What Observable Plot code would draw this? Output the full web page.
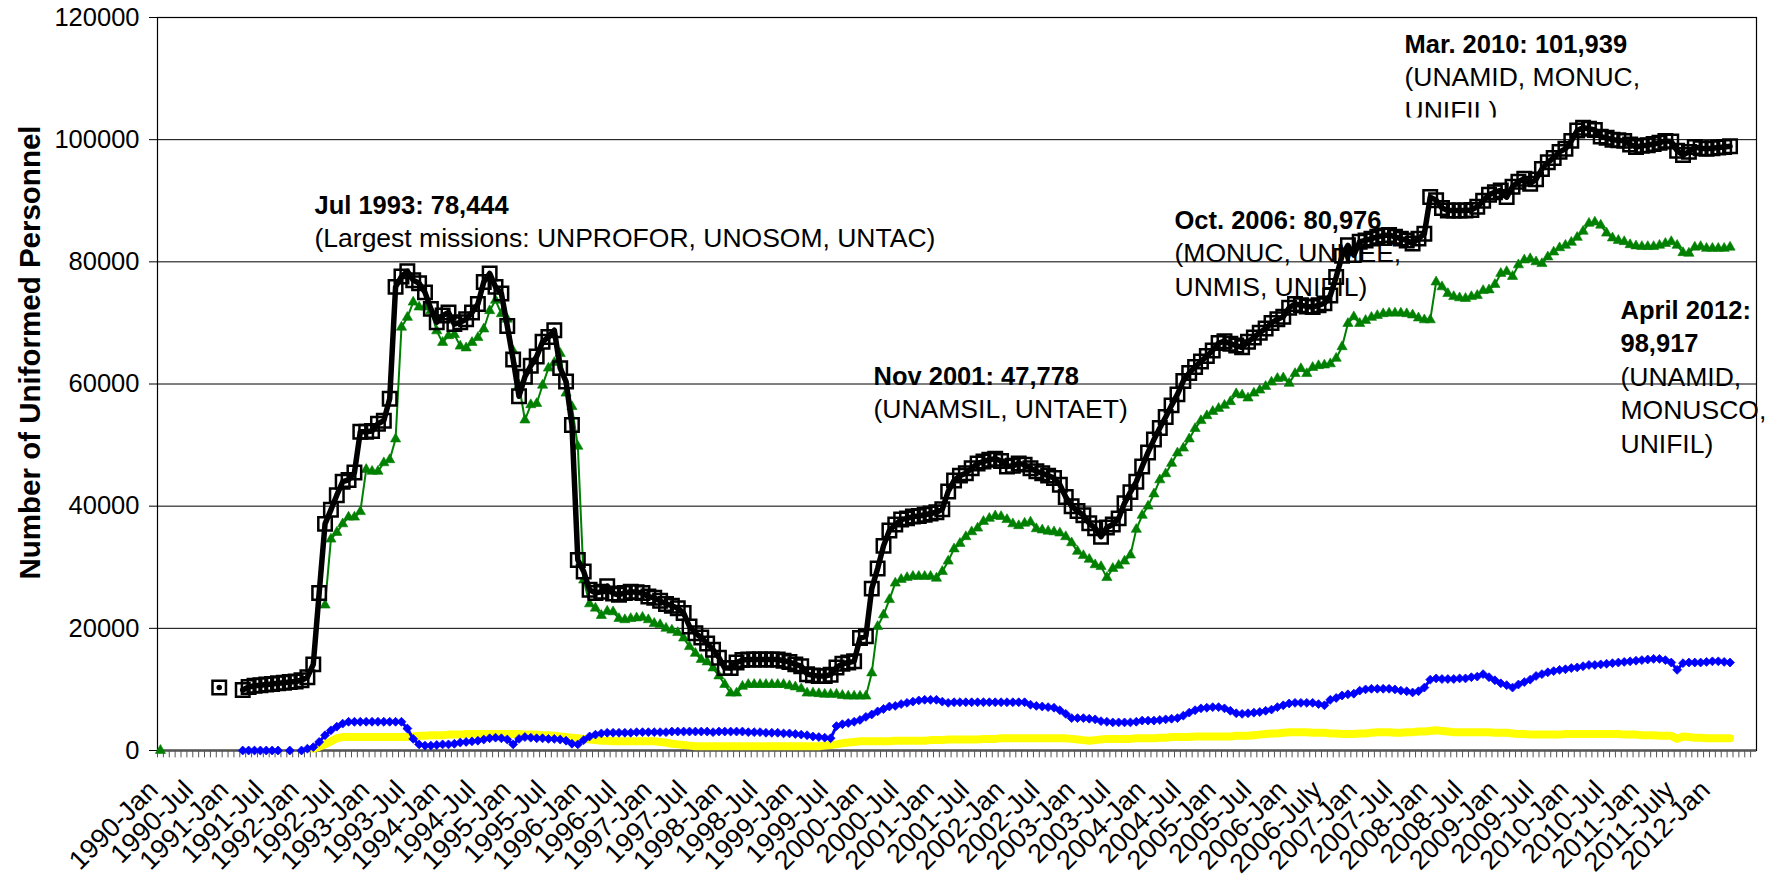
<!DOCTYPE html>
<html><head><meta charset="utf-8">
<script src="https://cdn.jsdelivr.net/npm/d3@7"></script>
<script src="https://cdn.jsdelivr.net/npm/@observablehq/plot@0.6"></script>
<style>
html,body{margin:0;padding:0;background:#fff;}
#chart svg{display:block;}
</style>
</head><body><div id="chart"></div>
<script>
// ---------- DATA ----------
// Months from 1990-Jan; category axis runs through 2012-Aug (272 categories)
const firstYear = 1990, nCategories = 272;
const monthNames = ["Jan","Feb","Mar","Apr","May","Jun","Jul","Aug","Sep","Oct","Nov","Dec"];

// Tick labels (every 6th category)
const tickLabels = ["1990-Jan","1990-Jul","1991-Jan","1991-Jul","1992-Jan","1992-Jul","1993-Jan","1993-Jul",
 "1994-Jan","1994-Jul","1995-Jan","1995-Jul","1996-Jan","1996-Jul","1997-Jan","1997-Jul","1998-Jan","1998-Jul",
 "1999-Jan","1999-Jul","2000-Jan","2000-Jul","2001-Jan","2001-Jul","2002-Jan","2002-Jul","2003-Jan","2003-Jul",
 "2004-Jan","2004-Jul","2005-Jan","2005-Jul","2006-Jan","2006-July","2007-Jan","2007-Jul","2008-Jan","2008-Jul",
 "2009-Jan","2009-Jul","2010-Jan","2010-Jul","2011-Jan","2011-July","2012-Jan"];

const yTicks = [0, 20000, 40000, 60000, 80000, 100000, 120000];

// Total uniformed personnel (black, squares)
const total = [
 null,null,null,null,null,null,null,null,null,null,10304,null,
 null,null,9900,10400,10600,10700,10800,10900,11000,11100,11200,11300,
 11500,12000,14100,25800,37100,39400,41800,44000,44300,45500,52200,52200,
 52300,53500,54000,57600,75900,77600,78444,77000,76500,75000,72300,70100,
 71200,71700,69800,70100,70600,71700,73100,76700,78100,75900,74800,69500,
 64000,58000,61200,63000,64500,66900,67700,68800,62600,60400,53300,31200,
 29300,26300,25800,26000,26900,25700,25500,25800,26000,25900,25800,25200,
 25000,24500,24000,23700,23300,22500,20300,19200,18500,17500,16500,15200,
 13500,13500,14400,14800,14900,14900,14900,14900,14900,14900,14700,14500,
 14100,13800,12500,12300,12200,12200,12400,13600,14200,14400,14600,18400,
 18700,26500,29800,33500,36000,37000,37800,38000,38300,38400,38600,38800,
 39000,39500,42400,44200,45000,45400,46200,47000,47300,47600,47778,47400,
 46500,46600,47000,46800,46200,45700,45400,45000,44600,43500,41500,40000,
 39200,38500,37200,36400,35000,36500,37000,38000,40500,42300,44000,46500,
 48800,50900,52800,54600,56500,58300,60500,61800,62800,63700,64600,65500,
 66700,67000,66600,66300,66000,66900,67600,68400,69100,70000,70600,71000,
 72500,73100,72900,72700,72600,72900,73200,74500,77500,80976,82700,81100,
 83300,83500,83800,84100,84300,84400,84100,83800,83500,83000,83800,84600,
 90600,90100,88800,88400,88400,88400,88400,88500,89000,90000,91000,91400,
 91700,90600,92300,93100,93600,92800,93500,95200,96300,97000,98000,98500,
 99800,101500,101939,101800,101600,100500,100300,100000,99900,99800,99200,98800,
 99000,99100,99300,99500,99800,99700,98200,97500,98000,98800,98600,98500,
 98600,98700,98800,98917];

// Troops (green, triangles)
const troops = [
 0,null,null,null,null,null,null,null,null,null,null,null,
 null,null,null,null,null,null,null,null,null,null,null,null,
 null,null,null,null,23800,34600,35700,37100,38200,38200,39100,46000,
 45700,45700,47100,47600,51000,69300,70900,73400,72600,72600,72000,68700,
 66800,67900,68100,66200,65900,66800,67600,69000,72000,73700,71500,70600,
 65400,59800,54100,56600,56800,59800,62600,63500,65000,58500,56300,49800,
 27900,24000,23300,22100,22800,22700,21600,21400,21600,21700,21800,21400,
 20800,20600,20000,19700,19300,18400,17000,15900,14900,14500,13500,12200,
 10800,9400,9400,10500,10800,10800,10800,10800,10800,10800,10800,10600,
 10400,10100,9400,9400,9300,9200,9200,9200,9000,8900,8900,8900,
 8900,12700,20300,22200,24700,27400,28000,28300,28500,28500,28500,28500,
 28200,29300,31000,33000,33900,35000,35800,36400,37500,38000,38400,38300,
 37800,37100,36800,37200,37400,36300,36100,35900,35800,35600,35000,34000,
 32600,31900,31300,30400,30100,28300,29800,30300,31000,32000,36200,38500,
 40000,42000,44300,45300,47000,48700,49500,51000,52700,54000,54800,55500,
 56000,56500,57100,58400,58200,57700,58500,59000,59600,60300,60900,61000,
 60100,61700,62500,61700,62700,63000,63100,63300,64200,66100,69900,71000,
 69900,70400,70900,71200,71500,71600,71600,71600,71500,71300,70800,70500,
 70500,76700,75900,74800,74300,74100,74000,74300,74500,75300,75400,76300,
 78100,78400,77600,79500,80300,80500,80000,79700,80800,81600,82300,82700,
 83200,84000,85000,86300,86500,86000,84700,83900,83500,83300,82800,82600,
 82500,82500,82500,82700,83000,83300,82700,81500,81400,82400,82500,82200,
 82200,82200,82200,82400];

// Police (blue, diamonds)
const police = [
 null,null,null,null,null,null,null,null,null,null,null,null,
 null,null,0,0,0,0,0,0,0,null,0,null,
 0,300,550,1400,2500,3300,3900,4400,4700,4700,4700,4700,
 4700,4700,4700,4700,4700,4700,3600,1900,1000,800,800,900,
 1000,1000,1100,1300,1400,1500,1600,1800,2000,2100,2000,1800,
 1000,1900,2200,2100,2000,2000,1900,1900,1800,1600,1100,1000,
 1700,2300,2600,2800,2900,2900,2900,2900,2900,3000,3000,3000,
 3000,3000,3000,3100,3100,3100,3100,3100,3100,3100,3000,3100,
 3100,3100,3100,3100,3000,3000,3000,2900,2900,2900,2800,2800,
 2700,2600,2500,2300,2200,2100,2000,4000,4300,4500,4700,5000,
 5500,5900,6400,6800,7200,7300,7600,7800,8000,8200,8300,8300,
 8300,8000,7800,7900,7900,7900,7900,7900,7900,7900,7900,7900,
 7900,7900,7900,7900,7500,7300,7200,7100,7000,6600,6000,5300,
 5300,5300,5200,5100,4800,4700,4600,4600,4600,4600,4700,4900,
 4900,4900,5000,5100,5200,5300,5700,6200,6600,6900,7000,7100,
 7100,6900,6500,6100,6000,6100,6200,6300,6500,6700,7100,7400,
 7700,7800,7800,7800,7800,7600,7400,8300,8600,9000,9200,9300,
 9800,10000,10100,10100,10100,10100,10000,9800,9700,9500,9700,10300,
 11600,11800,11700,11700,11700,11800,11800,12000,12100,12500,12000,11500,
 11000,10700,10300,10800,11200,11600,12200,12500,12800,13000,13200,13300,
 13500,13600,13800,14000,14000,14100,14200,14300,14400,14500,14600,14700,
 14800,14900,15000,15000,14800,14400,13200,14300,14400,14400,14400,14500,
 14600,14600,14500,14400];

// Military observers (yellow)
const observers = [
 null,null,null,null,null,null,null,null,null,null,null,null,
 null,null,null,null,null,null,null,null,null,null,null,null,
 null,null,300,600,1000,1500,2000,2200,2200,2200,2200,2200,
 2200,2200,2200,2200,2200,2200,2200,2300,2400,2400,2500,2500,
 2500,2600,2600,2600,2700,2700,2700,2700,2700,2700,2700,2700,
 2700,2700,2600,2600,2600,2500,2500,2400,2300,2200,2100,2000,
 1900,1800,1700,1600,1600,1500,1500,1500,1500,1500,1500,1500,
 1500,1400,1300,1100,1000,900,800,700,700,700,700,700,
 700,700,700,700,700,700,700,700,700,700,700,700,
 700,700,700,700,700,800,900,1000,1200,1300,1400,1500,
 1500,1500,1500,1500,1500,1600,1600,1600,1600,1600,1600,1700,
 1700,1700,1800,1800,1800,1800,1800,1800,1900,1900,1900,2000,
 2000,2000,2000,2000,2000,2000,2000,2000,2000,2000,2000,1900,
 1800,1700,1600,1700,1800,1900,1900,1900,1900,1900,2000,2000,
 2000,2000,2100,2100,2200,2200,2200,2200,2300,2300,2300,2300,
 2300,2300,2300,2400,2400,2400,2500,2600,2700,2800,2800,2900,
 3000,3000,3000,3000,2900,2900,2900,2800,2800,2700,2700,2700,
 2800,2800,2900,3000,3000,3000,2900,2900,3000,3000,3100,3100,
 3200,3300,3200,3100,3000,3000,3000,3000,3000,3000,3000,2900,
 2900,2900,2800,2700,2700,2600,2600,2600,2600,2600,2600,2700,
 2700,2700,2700,2700,2700,2700,2700,2700,2700,2600,2600,2600,
 2500,2500,2500,2400,2400,2400,1900,2300,2200,2100,2100,2000,
 2000,2000,2000,2000];

// Annotation texts (first `bold` lines are bold)
const annotations = [
 {lines: ["Jul 1993: 78,444", "(Largest missions: UNPROFOR, UNOSOM, UNTAC)"], bold: 1},
 {lines: ["Nov 2001: 47,778", "(UNAMSIL, UNTAET)"], bold: 1},
 {lines: ["Oct. 2006: 80,976", "(MONUC, UNMEE,", "UNMIS, UNIFIL)"], bold: 1},
 {lines: ["Mar. 2010: 101,939", "(UNAMID, MONUC,", "UNIFIL)"], bold: 1},
 {lines: ["April 2012:", "98,917", "(UNAMID,", "MONUSCO,", "UNIFIL)"], bold: 2}
];

// ---------- LAYOUT ----------
const W = 1771, H = 877;
const mL = 157, mR = 15, mT = 17, mB = 127;
const annPos = [[314, 205], [873, 376], [1174, 220], [1404, 44], [1620, 310]]; // left x, first-line center y (px)
const lineGap = 33.5;
const FONT = "'Liberation Sans', Arial, Helvetica, sans-serif";

// ---------- BUILD ----------
const months = d3.range(nCategories).map(i => `${firstYear + Math.floor(i / 12)}-${monthNames[i % 12]}`);
const bw = (W - mL - mR) / nCategories;
const rows = arr => arr.map((v, i) => ({m: months[i], v}));
const tickIdx = tickLabels.map((_, k) => k * 6);

const annRows = [];
annotations.forEach((a, j) => a.lines.forEach((t, k) => annRows.push({
  t, bold: k < a.bold, x: annPos[j][0], y: annPos[j][1] + k * lineGap, group: j, line: k
})));

const chart = Plot.plot({
  width: W, height: H,
  marginLeft: mL, marginRight: mR, marginTop: mT, marginBottom: mB,
  style: {fontFamily: FONT, background: "#fff", color: "#000", overflow: "visible"},
  x: {type: "band", domain: months, padding: 0, axis: null},
  y: {domain: [0, 120000], axis: null},
  marks: [
    Plot.gridY(yTicks, {stroke: "#000", strokeOpacity: 1, strokeWidth: 1}),
    Plot.frame({stroke: "#000", strokeWidth: 1.2}),
    // x tick marks at category boundaries
    Plot.ruleX(months, {x: d => d, y1: 0, y2: -1200, dx: -bw / 2, stroke: "#555", strokeWidth: 1}),
    Plot.ruleY([0], {stroke: "#555", strokeWidth: 2.5}),
    Plot.axisY(yTicks, {tickFormat: d => String(d), fontSize: 25.5, tickSize: 8, tickPadding: 10, label: null, stroke: "#000"}),
    Plot.text(tickIdx, {x: i => months[i], y: 0, text: (i, k) => tickLabels[k], rotate: -45,
      textAnchor: "end", lineAnchor: "middle", dx: -7, dy: 35, fontSize: 27, fill: "#000"}),
    Plot.text(["Number of Uniformed Personnel"], {frameAnchor: "top-left", dx: 30 - mL, dy: 352 - mT,
      rotate: -90, textAnchor: "middle", lineAnchor: "middle", fontWeight: "bold", fontSize: 29.5, fill: "#000"}),
    // annotations (positioned below via DOM)
    Plot.text(annRows, {frameAnchor: "top-left", text: "t", fill: "#000", fontSize: 26.5,
      textAnchor: "start", lineAnchor: "middle"}),
    // series
    Plot.line(rows(observers), {x: "m", y: "v", stroke: "#ffff00", strokeWidth: 8}),
    Plot.line(rows(police), {x: "m", y: "v", stroke: "#0000ff", strokeWidth: 3}),
    Plot.dot(rows(police), {x: "m", y: "v", symbol: "diamond2", r: 4, fill: "#0000ff", stroke: "#0000ff", strokeWidth: 0.8}),
    Plot.line(rows(troops), {x: "m", y: "v", stroke: "#008000", strokeWidth: 2}),
    Plot.dot(rows(troops), {x: "m", y: "v", symbol: "triangle", r: 3.8, fill: "#008000", stroke: "#008000", strokeWidth: 0.6}),
    Plot.line(rows(total), {x: "m", y: "v", stroke: "#000", strokeWidth: 5.5}),
    Plot.dot(rows(total), {x: "m", y: "v", symbol: "square", r: 7.6, fill: "none", stroke: "#000", strokeWidth: 2.5})
  ]
});
document.getElementById("chart").appendChild(chart);

// position annotation lines (pixel layout), apply bold weight, and clip the last line of the 2010 note
const ns = "http://www.w3.org/2000/svg";
const defs = document.createElementNS(ns, "defs");
const cp = document.createElementNS(ns, "clipPath");
cp.setAttribute("id", "annclip");
const cr = document.createElementNS(ns, "rect");
// rect in the text element's own (translated) coordinates
cr.setAttribute("x", -20); cr.setAttribute("y", -40); cr.setAttribute("width", 300); cr.setAttribute("height", 46);
cp.appendChild(cr); defs.appendChild(cp); chart.insertBefore(defs, chart.firstChild);

const annTexts = chart.querySelectorAll("g[aria-label='text']")[2].querySelectorAll("text");
annTexts.forEach((el, i) => {
  const r = annRows[i];
  el.setAttribute("transform", `translate(${r.x},${r.y})`);
  if (r.bold) { el.setAttribute("font-weight", "bold"); el.setAttribute("font-size", "25.5"); }
  if (r.group === 3 && r.line === 2) el.setAttribute("clip-path", "url(#annclip)");
});
</script>
</body></html>
